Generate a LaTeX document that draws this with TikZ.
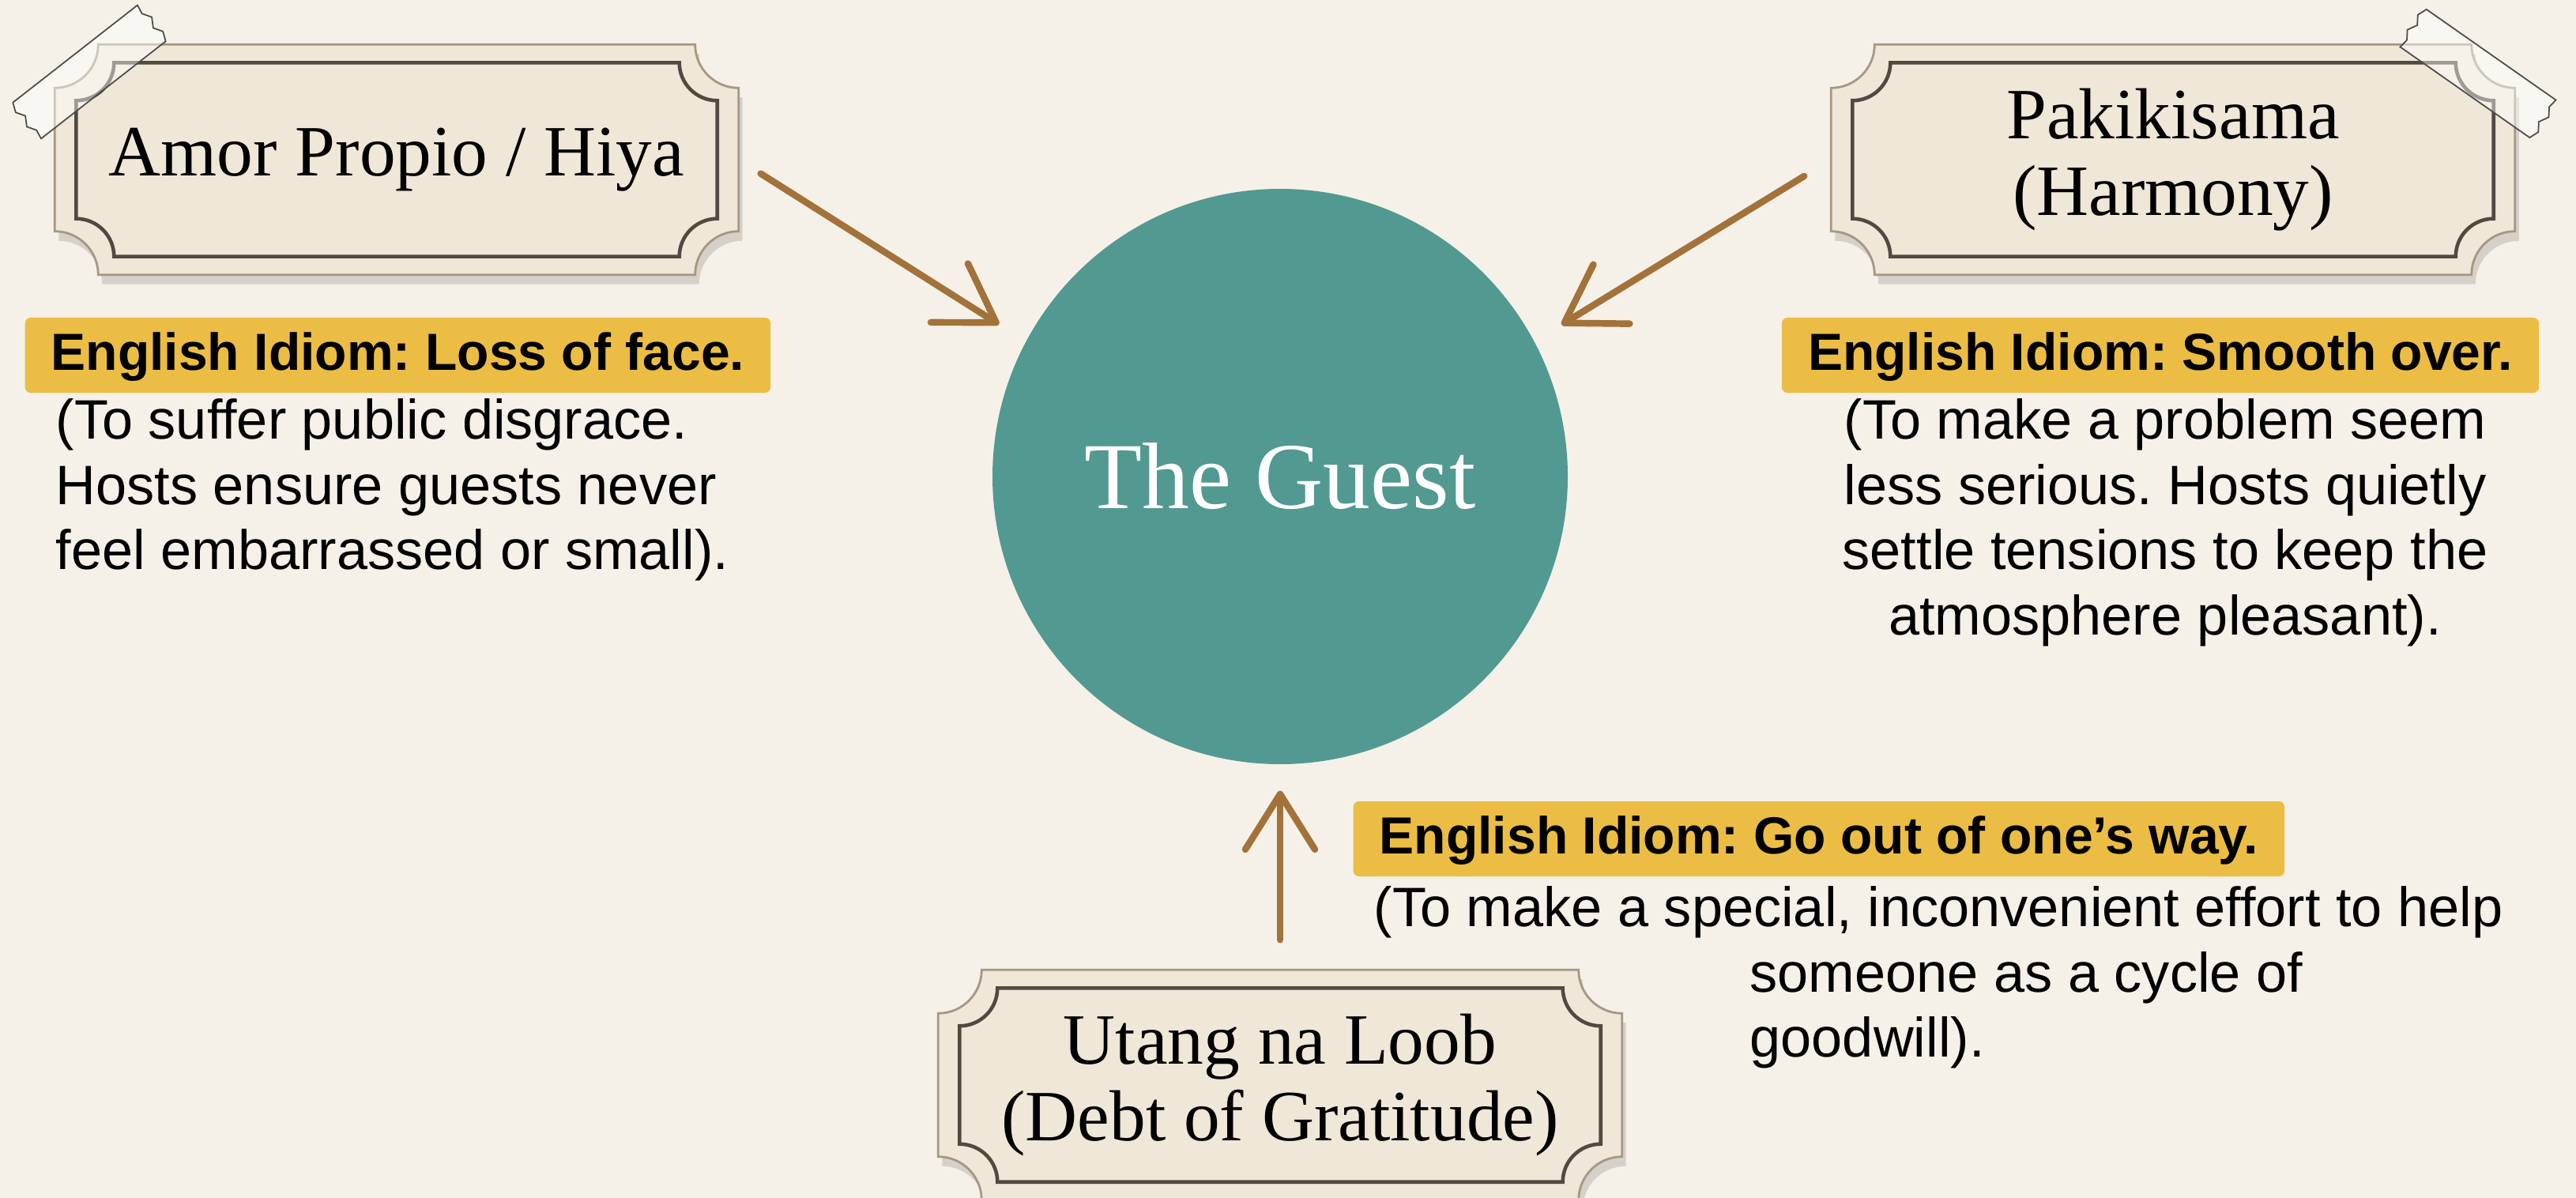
\documentclass[tikz,border=0pt]{standalone}
\usepackage{fontspec}
\setmainfont{Liberation Serif}
\setsansfont{Liberation Sans}
\usetikzlibrary{arrows.meta,calc}

\definecolor{paperbg}{RGB}{245,241,232}
\definecolor{ticketfill}{RGB}{239,231,215}
\definecolor{ticketedge}{RGB}{165,152,132}
\definecolor{ticketline}{RGB}{80,74,66}
\definecolor{guestteal}{RGB}{82,153,146}
\definecolor{arrowbrown}{RGB}{163,114,58}
\definecolor{marker}{RGB}{236,189,68}

\pgfdeclarelayer{paper}
\pgfdeclarelayer{back}
\pgfsetlayers{paper,back,main}

\tikzset{
	ticket/.style={minimum width=8.64cm, minimum height=2.9cm, align=center, font=\fontsize{26}{27.5}\selectfont},
	idiom/.style={fill=marker, font=\sffamily\bfseries\fontsize{18.8}{22}\selectfont, inner xsep=0.33cm, inner ysep=0.13cm, text height=0.53cm, text depth=0.16cm, rounded corners=2pt},
	gloss/.style={font=\sffamily\fontsize{20}{23.5}\selectfont, inner sep=0pt},
	flow/.style={draw=arrowbrown, line width=2.4pt, line cap=round, -{Straight Barb[length=0.7cm, width=0.88cm, round]}},
	tape/.style={fill=white, fill opacity=0.45, draw=black!70, line width=0.5pt},
}

\newcommand{\ticketpath}[3]{let \p1=#1, \p2=#2 in (\x1+#3,\y1) -- (\x2-#3,\y1) arc[start angle=180, end angle=270, radius=#3] -- (\x2,\y2+#3) arc[start angle=90, end angle=180, radius=#3] -- (\x1+#3,\y2) arc[start angle=0, end angle=90, radius=#3] -- (\x1,\y1-#3) arc[start angle=270, end angle=360, radius=#3] -- cycle}

\newcommand{\ticketframe}[1]{%
	\begin{pgfonlayer}{back}
		\fill[black, opacity=0.13] \ticketpath{([shift={(0.05,-0.12)}]#1.north west)}{([shift={(0.05,-0.12)}]#1.south east)}{0.55cm};
		\fill[ticketfill, draw=ticketedge, line width=0.8pt] \ticketpath{(#1.north west)}{(#1.south east)}{0.55cm};
		\draw[ticketline, line width=1.3pt] \ticketpath{([shift={(0.27,-0.23)}]#1.north west)}{([shift={(-0.27,0.23)}]#1.south east)}{0.48cm};
	\end{pgfonlayer}}

\newcommand{\tapestrip}[2]{%
	\begin{scope}[shift={#1}, rotate=#2]
		\filldraw[tape] (-1,-0.29) -- (1,-0.29) -- (1.05,-0.17) -- (0.98,-0.06) -- (1.05,0.06) -- (0.98,0.17) -- (1,0.29) -- (-1,0.29) -- (-1.05,0.17) -- (-0.98,0.06) -- (-1.05,-0.06) -- (-0.98,-0.17) -- cycle;
	\end{scope}}

\begin{document}
\frenchspacing
\begin{tikzpicture}
	\useasboundingbox (0,0) rectangle (32.6,-15.16);
	\begin{pgfonlayer}{paper}
		\fill[paperbg] (0,0) rectangle (32.6,-15.16);
	\end{pgfonlayer}

	\node[ticket] (amor) at (5.02,-2.02) {Amor Propio / Hiya};
	\node[ticket] (pakiki) at (27.5,-2.02) {Pakikisama\\(Harmony)};
	\node[ticket] (utang) at (16.2,-13.73) {Utang na Loob\\(Debt of Gratitude)};
	\ticketframe{amor}
	\ticketframe{pakiki}
	\ticketframe{utang}
	\tapestrip{(1.13,-0.91)}{38}
	\tapestrip{(31.36,-0.93)}{-35}

	\node[circle, fill=guestteal, minimum size=7.28cm, text=white, font=\fontsize{34}{36}\selectfont] (guest) at (16.2,-6.03) {The Guest};

	\draw[flow, shorten <=0.33cm, shorten >=0.4cm] (amor.east) -- (guest.152);
	\draw[flow, shorten <=0.4cm, shorten >=0.4cm] (pakiki.west) -- (guest.28);
	\draw[flow, shorten <=0.38cm, shorten >=0.33cm] (utang.north) -- (guest);

	\node[idiom, anchor=base west] (lossface) at (0.31,-4.68) {English Idiom: Loss of face.};
	\node[gloss, anchor=north west, align=left] (lossgloss) at (0.70,-5.04) {(To suffer public disgrace.\\Hosts ensure guests never\\feel embarrassed or small).};

	\node[idiom, anchor=base] (smooth) at (27.34,-4.68) {English Idiom: Smooth over.};
	\node[gloss, anchor=north, align=center] (smoothgloss) at (27.40,-5.04) {(To make a problem seem\\less serious. Hosts quietly\\settle tensions to keep the\\atmosphere pleasant).};

	\node[idiom, anchor=base west] (goout) at (17.12,-10.80) {English Idiom: Go out of one’s way.};
	\node[gloss, anchor=north west, align=left] (gooutgloss) at (17.38,-11.21) {(To make a special, inconvenient effort to help\\\hspace*{4.76cm}someone as a cycle of\\\hspace*{4.76cm}goodwill).};
\end{tikzpicture}
\end{document}
